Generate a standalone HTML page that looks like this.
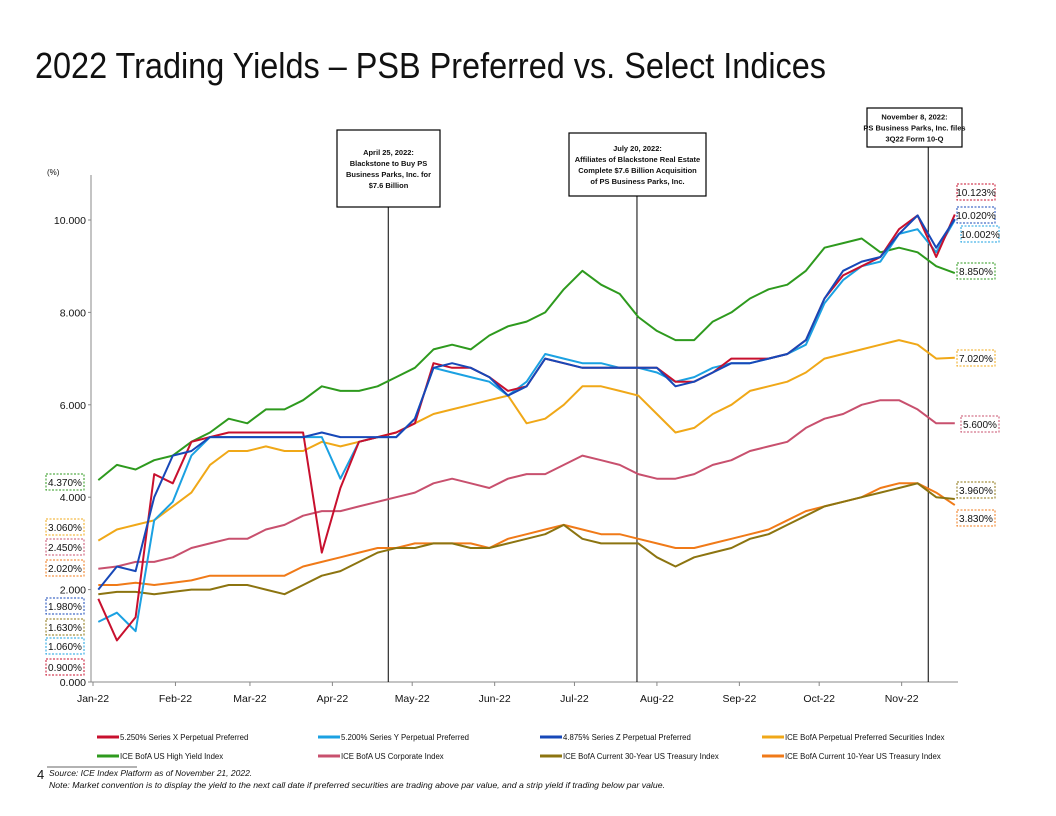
<!DOCTYPE html>
<html><head><meta charset="utf-8"><style>
html,body{margin:0;padding:0;background:#fff;}
svg{display:block;font-family:"Liberation Sans",sans-serif;}
</style></head><body>
<svg id="chart" width="1056" height="816" viewBox="0 0 1056 816">
<text x="35" y="78" font-size="36" fill="#111" textLength="791" lengthAdjust="spacingAndGlyphs">2022 Trading Yields – PSB Preferred vs. Select Indices</text>
<g id="axes"></g><g id="events"></g><g id="series"></g><g id="labels"></g><g id="legend"></g>
<line x1="47" y1="767" x2="137" y2="767" stroke="#333" stroke-width="0.8"/>
<text x="37" y="779" font-size="13" fill="#111">4</text>
<text x="49" y="776" font-size="8.5" font-style="italic" fill="#111">Source: ICE Index Platform as of November 21, 2022.</text>
<text x="49" y="788" font-size="8.5" font-style="italic" fill="#111" textLength="616" lengthAdjust="spacingAndGlyphs">Note: Market convention is to display the yield to the next call date if preferred securities are trading above par value, and a strip yield if trading below par value.</text>
</svg>
<script>
const weekDays = Array.from({length:47},(_,i)=>2+7*i);
const monthLabels = ["Jan-22","Feb-22","Mar-22","Apr-22","May-22","Jun-22","Jul-22","Aug-22","Sep-22","Oct-22","Nov-22"];
const monthDays = [0,31,59,90,120,151,181,212,243,273,304];
const yTicks = [0,2,4,6,8,10];
const seriesNames = ["5.250% Series X Perpetual Preferred","5.200% Series Y Perpetual Preferred","4.875% Series Z Perpetual Preferred","ICE BofA Perpetual Preferred Securities Index","ICE BofA US High Yield Index","ICE BofA US Corporate Index","ICE BofA Current 30-Year US Treasury Index","ICE BofA Current 10-Year US Treasury Index"];
const seriesColors = ["#c8102e","#1ba1e2","#1748b8","#f0a818","#2e9a1e","#c8506e","#8c7410","#f07a18"];
const seriesX = [1.8,0.9,1.4,4.5,4.3,5.2,5.3,5.4,5.4,5.4,5.4,5.4,2.8,4.2,5.2,5.3,5.4,5.6,6.9,6.8,6.8,6.6,6.3,6.4,7.0,6.9,6.8,6.8,6.8,6.8,6.8,6.5,6.5,6.7,7.0,7.0,7.0,7.1,7.4,8.3,8.8,9.0,9.2,9.8,10.1,9.2,10.12];
const seriesY = [1.3,1.5,1.1,3.5,3.9,4.9,5.3,5.3,5.3,5.3,5.3,5.3,5.3,4.4,5.2,5.3,5.3,5.7,6.8,6.7,6.6,6.5,6.2,6.5,7.1,7.0,6.9,6.9,6.8,6.8,6.7,6.5,6.6,6.8,6.9,6.9,7.0,7.1,7.3,8.2,8.7,9.0,9.1,9.7,9.8,9.3,10.0];
const seriesZ = [2.0,2.5,2.4,4.0,4.9,5.0,5.3,5.3,5.3,5.3,5.3,5.3,5.4,5.3,5.3,5.3,5.3,5.7,6.8,6.9,6.8,6.6,6.2,6.4,7.0,6.9,6.8,6.8,6.8,6.8,6.8,6.4,6.5,6.7,6.9,6.9,7.0,7.1,7.4,8.3,8.9,9.1,9.2,9.7,10.1,9.4,10.02];
const prefIndex = [3.06,3.3,3.4,3.5,3.8,4.1,4.7,5.0,5.0,5.1,5.0,5.0,5.2,5.1,5.2,5.3,5.4,5.6,5.8,5.9,6.0,6.1,6.2,5.6,5.7,6.0,6.4,6.4,6.3,6.2,5.8,5.4,5.5,5.8,6.0,6.3,6.4,6.5,6.7,7.0,7.1,7.2,7.3,7.4,7.3,7.0,7.02];
const highYield = [4.37,4.7,4.6,4.8,4.9,5.2,5.4,5.7,5.6,5.9,5.9,6.1,6.4,6.3,6.3,6.4,6.6,6.8,7.2,7.3,7.2,7.5,7.7,7.8,8.0,8.5,8.9,8.6,8.4,7.9,7.6,7.4,7.4,7.8,8.0,8.3,8.5,8.6,8.9,9.4,9.5,9.6,9.3,9.4,9.3,9.0,8.85];
const corporate = [2.45,2.5,2.6,2.6,2.7,2.9,3.0,3.1,3.1,3.3,3.4,3.6,3.7,3.7,3.8,3.9,4.0,4.1,4.3,4.4,4.3,4.2,4.4,4.5,4.5,4.7,4.9,4.8,4.7,4.5,4.4,4.4,4.5,4.7,4.8,5.0,5.1,5.2,5.5,5.7,5.8,6.0,6.1,6.1,5.9,5.6,5.6];
const treasury30 = [1.9,1.95,1.95,1.9,1.95,2.0,2.0,2.1,2.1,2.0,1.9,2.1,2.3,2.4,2.6,2.8,2.9,2.9,3.0,3.0,2.9,2.9,3.0,3.1,3.2,3.4,3.1,3.0,3.0,3.0,2.7,2.5,2.7,2.8,2.9,3.1,3.2,3.4,3.6,3.8,3.9,4.0,4.1,4.2,4.3,4.0,3.96];
const treasury10 = [2.1,2.1,2.15,2.1,2.15,2.2,2.3,2.3,2.3,2.3,2.3,2.5,2.6,2.7,2.8,2.9,2.9,3.0,3.0,3.0,3.0,2.9,3.1,3.2,3.3,3.4,3.3,3.2,3.2,3.1,3.0,2.9,2.9,3.0,3.1,3.2,3.3,3.5,3.7,3.8,3.9,4.0,4.2,4.3,4.3,4.1,3.83];
const seriesData = [seriesX,seriesY,seriesZ,prefIndex,highYield,corporate,treasury30,treasury10];
const leftLabels = ["4.370%","3.060%","2.450%","2.020%","1.980%","1.630%","1.060%","0.900%"];
const leftLabelColors = ["#2e9a1e","#f0a818","#c8506e","#f07a18","#1748b8","#8c7410","#1ba1e2","#c8102e"];
const rightLabels = ["10.123%","10.020%","10.002%","8.850%","7.020%","5.600%","3.960%","3.830%"];
const rightLabelColors = ["#c8102e","#1748b8","#1ba1e2","#2e9a1e","#f0a818","#c8506e","#8c7410","#f07a18"];
const eventDays = [111,204.5,314];
const eventTexts = [["April 25, 2022:","Blackstone to Buy PS","Business Parks, Inc. for","$7.6 Billion"],["July 20, 2022:","Affiliates of Blackstone Real Estate","Complete $7.6 Billion Acquisition","of PS Business Parks, Inc."],["November 8, 2022:","PS Business Parks, Inc. files","3Q22 Form 10-Q"]];

const NS="http://www.w3.org/2000/svg";
const X0=93, PXD=2.66, Y0=682, PXU=46.2;
const xs=d=>X0+d*PXD, ys=v=>Y0-v*PXU;
function mk(tag,attrs,parent,txt){const e=document.createElementNS(NS,tag);for(const k in attrs)e.setAttribute(k,attrs[k]);if(txt!==undefined)e.textContent=txt;parent.appendChild(e);return e;}
const axes=document.getElementById('axes');
let a=mk('line',{x1:91,y1:175,x2:91,y2:682,stroke:'#888','stroke-width':1},axes);


a=mk('line',{x1:91,y1:682,x2:958,y2:682,stroke:'#888','stroke-width':1},axes);


a=mk('text',{x:47,y:175,'font-size':8,fill:'#111'},axes,'(%)');


yTicks.forEach(v=>{
  const t=mk('text',{x:86,y:ys(v)+4,'font-size':10.5,'text-anchor':'end',fill:'#111'},axes,v.toFixed(3));
  
  
  mk('line',{x1:88,y1:ys(v),x2:91,y2:ys(v),stroke:'#888'},axes);
});
monthLabels.forEach((m,i)=>{
  const t=mk('text',{x:xs(monthDays[i]),y:702,'font-size':10.5,'text-anchor':'middle',fill:'#111'},axes,m);
  
  
  mk('line',{x1:xs(monthDays[i]),y1:682,x2:xs(monthDays[i]),y2:686,stroke:'#888'},axes);
});
const ev=document.getElementById('events');
const boxes=[[337,130,103,77],[569,133,137,63],[867,108,95,39]];
eventDays.forEach((d,i)=>{
  const b=boxes[i];
  const l=mk('line',{x1:xs(d),y1:b[1]+b[3],x2:xs(d),y2:682,stroke:'#000','stroke-width':1},ev);
  
  
  const r=mk('rect',{x:b[0],y:b[1],width:b[2],height:b[3],fill:'#fff',stroke:'#000','stroke-width':1.2},ev);
  
  
  const n=eventTexts[i].length, sy=b[1]+b[3]/2-(n-1)*5.5+3;
  eventTexts[i].forEach((s,j)=>{
    const t=mk('text',{x:b[0]+b[2]/2,y:sy+j*11,'font-size':7.5,'font-weight':'bold','text-anchor':'middle',fill:'#111'},ev,s);
    
    
  });
});
const sg=document.getElementById('series');
[4,3,5,7,6,1,0,2].forEach(k=>{
  const pts=seriesData[k].map((v,i)=>xs(weekDays[i]).toFixed(1)+','+ys(v).toFixed(1)).join(' ');
  const p=mk('polyline',{points:pts,fill:'none',stroke:seriesColors[k],'stroke-width':2,'stroke-linejoin':'round'},sg);
  
  
});
const lg=document.getElementById('labels');
const leftY=[482,527,547,568,606,627,646,667];
leftLabels.forEach((s,i)=>{
  const r=mk('rect',{x:46,y:leftY[i]-8,width:38,height:16,fill:'#fff',stroke:leftLabelColors[i],'stroke-dasharray':'2,1.5'},lg);
  
  
  const t=mk('text',{x:65,y:leftY[i]+4,'font-size':10,'text-anchor':'middle',fill:'#111'},lg,s);
  
  
});
const rightY=[192,215,234,271,358,424,490,518];
const rightX=[957,957,961,957,957,961,957,957];
rightLabels.forEach((s,i)=>{
  const r=mk('rect',{x:rightX[i],y:rightY[i]-8,width:38,height:16,fill:'#fff',stroke:rightLabelColors[i],'stroke-dasharray':'2,1.5'},lg);
  
  
  const t=mk('text',{x:rightX[i]+19,y:rightY[i]+4,'font-size':10,'text-anchor':'middle',fill:'#111'},lg,s);
  
  
});
const leg=document.getElementById('legend');
const colX=[97,318,540,762];
seriesNames.forEach((s,i)=>{
  const x=colX[i%4], y=i<4?737:756;
  const g=mk('g',{},leg);
  
  
  mk('line',{x1:x,y1:y,x2:x+22,y2:y,stroke:seriesColors[i],'stroke-width':3},g);
  mk('text',{x:x+23,y:y+3,'font-size':7.8,fill:'#111'},g,s);
});
</script>
</body></html>
